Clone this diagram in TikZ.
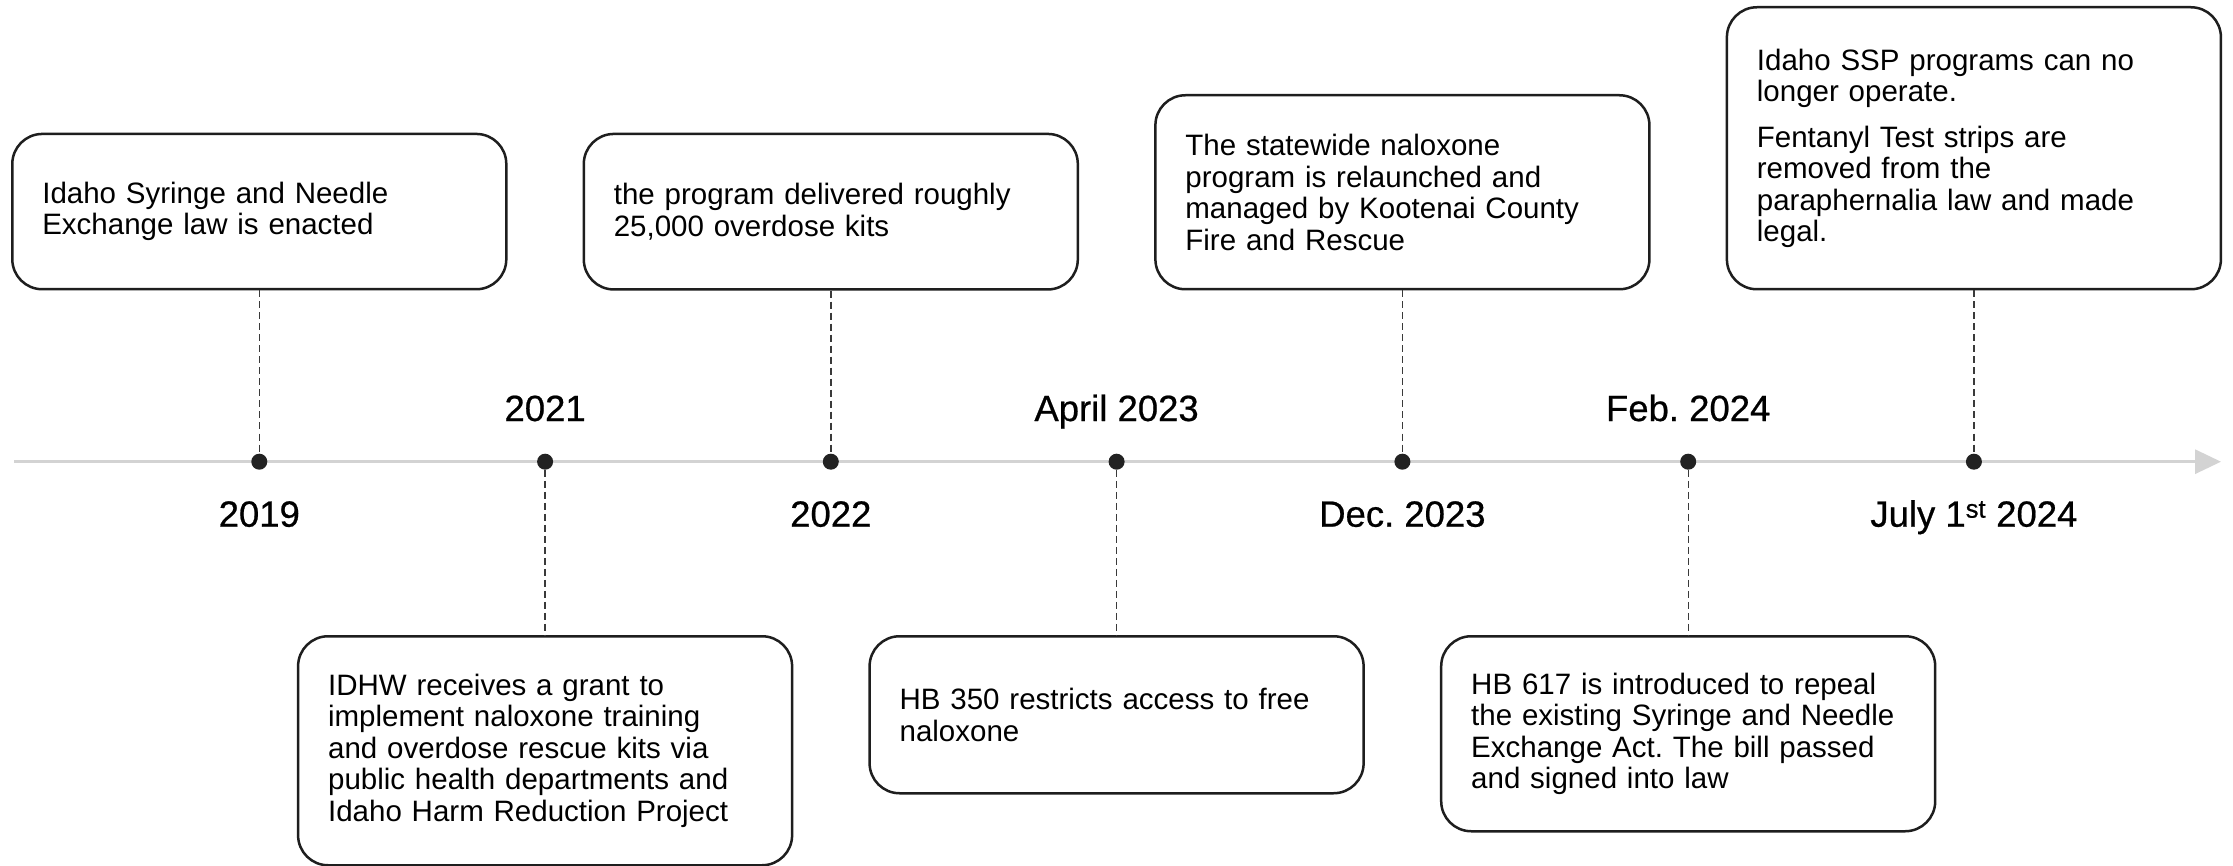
\documentclass[tikz,border=0pt]{standalone}
\usepackage{fontspec}
\setmainfont{Liberation Sans}
\newfontfamily\yearfont{Liberation Sans}[FakeBold=0.6]
\usetikzlibrary{arrows.meta}
\frenchspacing
\definecolor{boxline}{HTML}{1E1E1E}
\definecolor{axisgray}{HTML}{D3D3D3}
\definecolor{dotcol}{HTML}{222222}
\definecolor{conncol}{HTML}{3A3A3A}
\tikzset{
  evbox/.style={draw=boxline, line width=2.5pt, rounded corners=30pt, fill=white,
    text width=434pt, inner xsep=30pt, inner ysep=0pt, align=left, anchor=north,
    font=\fontsize{29.5}{31.5}\selectfont\frenchspacing, text=black},
  evdot/.style={circle, fill=dotcol, draw=none, minimum size=16pt, inner sep=0pt},
  yearlbl/.style={font=\yearfont\fontsize{36.5}{40}\selectfont, text=black, anchor=base},
  conn/.style={draw=conncol, line width=1.4pt, dash pattern=on 7pt off 4pt}
}
\begin{document}
\begin{tikzpicture}[x=1pt,y=-1pt]
\useasboundingbox (0,0) rectangle (2233,866);
\fill[white] (0,0) rectangle (2233,866);
% timeline
\coordinate (tstart) at (14,461.7);
\coordinate (tend) at (2221,461.7);
\draw[axisgray, line width=3pt, -{Triangle[length=26pt,width=24pt]}] (tstart) -- (tend);
% dots
\node[evdot] (d1) at (259.3,461.7) {};
\node[evdot] (d2) at (545.1,461.7) {};
\node[evdot] (d3) at (830.8,461.7) {};
\node[evdot] (d4) at (1116.6,461.7) {};
\node[evdot] (d5) at (1402.4,461.7) {};
\node[evdot] (d6) at (1688.2,461.7) {};
\node[evdot] (d7) at (1973.9,461.7) {};
% year labels
\node[yearlbl] (y1) at (259.3,526.7) {2019};
\node[yearlbl] (y2) at (545.1,421) {2021};
\node[yearlbl] (y3) at (830.8,526.7) {2022};
\node[yearlbl] (y4) at (1116.6,421) {April 2023};
\node[yearlbl] (y5) at (1402.4,526.7) {Dec. 2023};
\node[yearlbl] (y6) at (1688.2,421) {Feb. 2024};
\node[yearlbl] (y7) at (1973.9,526.7) {July 1\textsuperscript{st} 2024};
% boxes
\node[evbox, minimum height=155.3pt] (b1) at (259.3,132.7)
  {Idaho Syringe and Needle\\Exchange law is enacted};
\node[evbox, minimum height=229pt] (b2) at (545.1,635)
  {IDHW receives a grant to\\implement naloxone training\\and overdose rescue kits via\\public health departments and\\Idaho Harm Reduction Project};
\node[evbox, minimum height=155.5pt] (b3) at (830.8,132.7)
  {the program delivered roughly\\25,000 overdose kits};
\node[evbox, minimum height=157pt] (b4) at (1116.6,635)
  {HB 350 restricts access to free\\naloxone};
\node[evbox, minimum height=194pt] (b5) at (1402.4,94)
  {The statewide naloxone\\program is relaunched and\\managed by Kootenai County\\Fire and Rescue};
\node[evbox, minimum height=195pt] (b6) at (1688.2,635)
  {HB 617 is introduced to repeal\\the existing Syringe and Needle\\Exchange Act. The bill passed\\and signed into law};
\node[evbox, minimum height=282pt] (b7) at (1973.9,6)
  {Idaho SSP programs can no\\longer operate.\\[14pt]Fentanyl Test strips are\\removed from the\\paraphernalia law and made\\legal.};
% connectors
\draw[conn] (b1.south) -- (d1);
\draw[conn] (d2) -- (b2.north);
\draw[conn] (b3.south) -- (d3);
\draw[conn] (d4) -- (b4.north);
\draw[conn] (b5.south) -- (d5);
\draw[conn] (d6) -- (b6.north);
\draw[conn] (b7.south) -- (d7);
\end{tikzpicture}
\end{document}
